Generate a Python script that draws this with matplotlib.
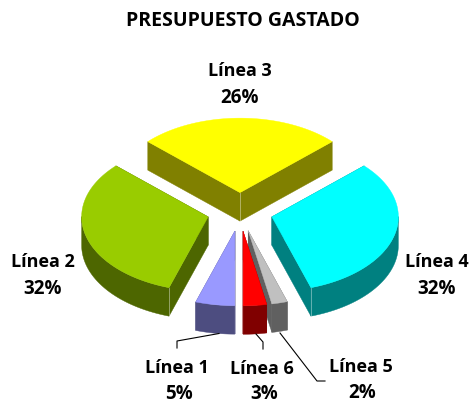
import numpy as np
import matplotlib
matplotlib.use('Agg')
import matplotlib.pyplot as plt
from matplotlib.patches import Polygon

titulo = 'PRESUPUESTO GASTADO'
lineas = ['Línea 1', 'Línea 2', 'Línea 3', 'Línea 4', 'Línea 5', 'Línea 6']
valores = [5, 32, 26, 32, 2, 3]
inicio = 180.0

color_arriba = ['#9999FF', '#99CC00', '#FFFF00', '#00FFFF', '#C0C0C0', '#FF0000']
color_lado = ['#4D4D80', '#4D6600', '#808000', '#008080', '#606060', '#800000']

# centro y radios de la elipse, en pixeles
cx, cy = 240, 212
ra, rb = 126.5, 74.5
alto = 28.5
explota = 0.26

# posiciones de las etiquetas (nombre y porcentaje)
pos_nombre = [(177, 368), (43, 262), (240, 71), (437, 262), (361, 367), (262, 369)]
pos_pct = [(179, 394), (43, 289), (240, 98), (437, 289), (362, 393), (264, 394)]
guias = {0: [(219, 333.5), (177, 341), (177, 348)],
         4: [(280, 333), (317, 381), (325, 381)],
         5: [(256, 334), (263, 342), (263, 349)]}
orden = [2, 1, 3, 4, 5, 0]


def punto(x0, y0, ang):
    r = np.radians(ang)
    return x0 + ra * np.sin(r), y0 - rb * np.cos(r)


fig = plt.figure(figsize=(4.7, 4.03), dpi=100)
ax = fig.add_axes([0, 0, 1, 1])
ax.set_xlim(0, 470)
ax.set_ylim(403, 0)
ax.axis('off')

# angulos de cada rebanada, en el sentido del reloj
total = sum(valores)
angulos = {}
a = inicio
for i, v in enumerate(valores):
    angulos[i] = (a, a + v / total * 360)
    a += v / total * 360

for i in orden:
    a0, a1 = angulos[i]
    z = orden.index(i) * 4
    medio = np.radians((a0 + a1) / 2)
    x0 = cx + explota * ra * np.sin(medio)
    y0 = cy - explota * rb * np.cos(medio)
    t = np.linspace(a0, a1, 60)
    xs, ys = punto(x0, y0, t)

    # caras de corte y cara exterior
    for ang in (a0, a1):
        px, py = punto(x0, y0, ang)
        cara = [(x0, y0), (px, py), (px, py + alto), (x0, y0 + alto)]
        ax.add_patch(Polygon(cara, closed=True, fc=color_lado[i], ec=color_lado[i], lw=0.3, zorder=z))
    abajo = (np.cos(np.radians(t)) < 0.02)
    if abajo.any():
        ex, ey = xs[abajo], ys[abajo]
        cara = list(zip(ex, ey)) + list(zip(ex[::-1], ey[::-1] + alto))
        ax.add_patch(Polygon(cara, closed=True, fc=color_lado[i], ec=color_lado[i], lw=0.3, zorder=z + 1))
    arriba = [(x0, y0)] + list(zip(xs, ys))
    ax.add_patch(Polygon(arriba, closed=True, fc=color_arriba[i], ec=color_arriba[i], lw=0.3, zorder=z + 2))

    # costura clara en la esquina de las rebanadas grandes
    if valores[i] > 25:
        if i == 2:
            sx, sy = x0, y0
        else:
            sx, sy = punto(x0, y0, a1 if i == 3 else a0)
        ax.plot([sx, sx], [sy, sy + alto], color='white', alpha=0.45, lw=0.6, zorder=z + 3)

for i, pts in guias.items():
    ax.plot([p[0] for p in pts], [p[1] for p in pts], color='black', lw=0.8, zorder=30)

fuente = 'Open Sans'
ax.text(243, 21, titulo, ha='center', va='center', fontsize=14, fontweight='bold', family=fuente)
for i in range(len(lineas)):
    ax.text(pos_nombre[i][0], pos_nombre[i][1], lineas[i], ha='center', va='center', fontsize=13, fontweight='bold', family=fuente, zorder=40)
    ax.text(pos_pct[i][0], pos_pct[i][1], f'{valores[i]}%', ha='center', va='center', fontsize=13.5, fontweight='bold', family=fuente, zorder=40)

fig.savefig('out.png', dpi=100)
